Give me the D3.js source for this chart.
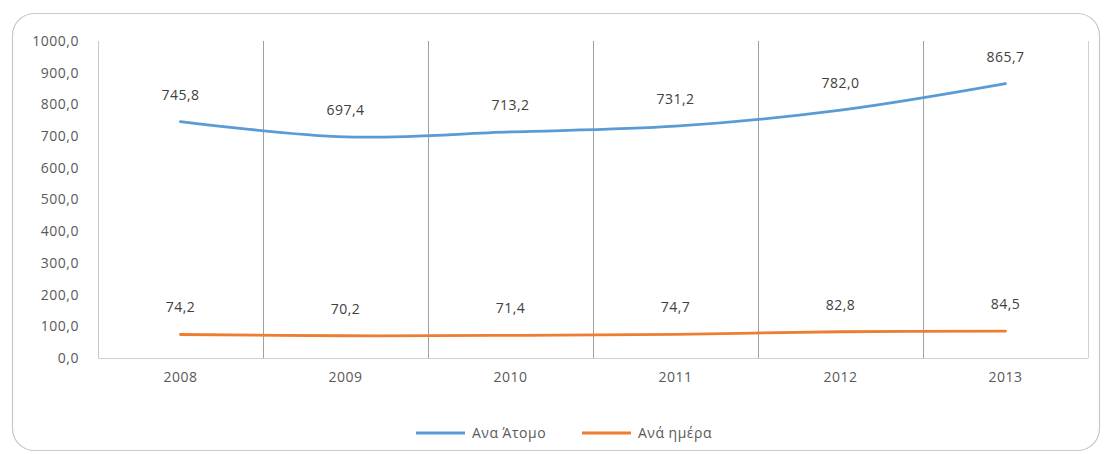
<!DOCTYPE html>
<html><head><meta charset="utf-8">
<script src="https://cdn.jsdelivr.net/npm/d3@7"></script>
<style>body{margin:0;background:#fff}svg{display:block}text{font-family:"Open Sans","Noto Sans",sans-serif;letter-spacing:0.5px}</style>
</head><body>
<svg id="c" width="1105" height="454"></svg>
<script>
const years = ["2008","2009","2010","2011","2012","2013"];
const perPerson = [745.8, 697.4, 713.2, 731.2, 782.0, 865.7];
const perDay = [74.2, 70.2, 71.4, 74.7, 82.8, 84.5];
const yTicks = [0,100,200,300,400,500,600,700,800,900,1000];
const seriesNames = ["Ανα Άτομο", "Ανά ημέρα"];
const colors = ["#5B9BD5", "#ED7D31"];

const svg = d3.select("#c");
svg.append("rect").attr("x",12.5).attr("y",13.5).attr("width",1087).attr("height",437)
  .attr("rx",22).attr("fill","#fff").attr("stroke","#c8c8c8").attr("stroke-width",1.2);

const pL=98, pR=1088, pT=41, pB=358;
const fs = "14px";
const x = d3.scaleBand().domain(years).range([pL,pR]);
const y = d3.scaleLinear().domain([0,1000]).range([pB,pT]);
const fmt = v => d3.format(".1f")(v).replace(".",",");

// vertical gridlines at band boundaries
const bounds = years.map(d=>x(d)).concat([pR]);
svg.append("g").selectAll("line").data(bounds).join("line")
  .attr("x1",d=>d+0.5).attr("x2",d=>d+0.5).attr("y1",pT).attr("y2",pB)
  .attr("stroke",(d,i)=> i===0 ? "#c8c8c8" : (i===bounds.length-1 ? "#d0d0d0" : "#a0a0a0")).attr("stroke-width",1);
svg.append("line").attr("x1",pL).attr("x2",pR).attr("y1",pB+0.5).attr("y2",pB+0.5)
  .attr("stroke","#d0d0d0");

// y axis
const ya = svg.append("g").attr("transform",`translate(${pL-16},0)`)
  .call(d3.axisLeft(y).tickValues(yTicks).tickSize(0).tickFormat(fmt));
ya.select(".domain").remove();
ya.selectAll("text").attr("fill","#595959").style("font-size",fs);

// x axis
const xa = svg.append("g").attr("transform",`translate(0,${pB+11})`)
  .call(d3.axisBottom(x).tickSize(0));
xa.select(".domain").remove();
xa.selectAll("text").attr("fill","#595959").style("font-size",fs);

const line = d3.line().x((d,i)=>x(years[i])+x.bandwidth()/2).y(d=>y(d)).curve(d3.curveCardinal.tension(0));
[perPerson, perDay].forEach((s,k)=>{
  svg.append("path").datum(s).attr("d",line).attr("fill","none")
    .attr("stroke",colors[k]).attr("stroke-width",2.8).attr("stroke-linecap","round");
  svg.append("g").selectAll("text").data(s).join("text")
    .attr("x",(d,i)=>x(years[i])+x.bandwidth()/2).attr("y",d=>y(d)-22)
    .attr("text-anchor","middle").attr("fill","#404040").style("font-size",fs)
    .text(fmt);
});

// legend
const lg = [{x:416, tx:472},{x:582, tx:638}];
lg.forEach((p,k)=>{
  svg.append("line").attr("x1",p.x).attr("x2",p.x+49).attr("y1",433).attr("y2",433)
    .attr("stroke",colors[k]).attr("stroke-width",2.8);
  svg.append("text").attr("x",p.tx).attr("y",438).attr("fill","#595959").style("font-size",fs).text(seriesNames[k]);
});
</script>
</body></html>
